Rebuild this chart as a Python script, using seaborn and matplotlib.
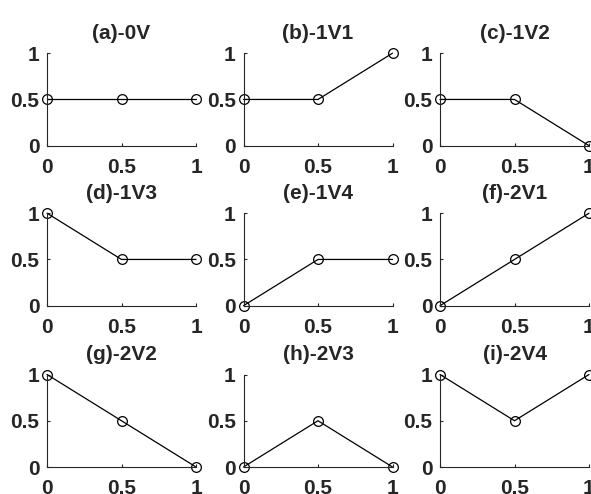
import matplotlib
matplotlib.use("Agg")
import matplotlib.pyplot as plt
import seaborn as sns
import pandas as pd

titles = ["(a)-0V", "(b)-1V1", "(c)-1V2",
          "(d)-1V3", "(e)-1V4", "(f)-2V1",
          "(g)-2V2", "(h)-2V3", "(i)-2V4"]
x_vals = [0, 0.5, 1]
series = [
    [0.5, 0.5, 0.5],
    [0.5, 0.5, 1.0],
    [0.5, 0.5, 0.0],
    [1.0, 0.5, 0.5],
    [0.0, 0.5, 0.5],
    [0.0, 0.5, 1.0],
    [1.0, 0.5, 0.0],
    [0.0, 0.5, 0.0],
    [1.0, 0.5, 1.0],
]
tick_vals = [0, 0.5, 1]
tick_labels = ["0", "0.5", "1"]

sns.set_style("white")
plt.rcParams['font.family'] = ['Liberation Sans', 'DejaVu Sans']

W, H = 591, 494
fig = plt.figure(figsize=(W / 100, H / 100), dpi=100)

lefts = [47 / W, 243.5 / W, 440 / W]
bottoms = [1 - 145.7 / H, 1 - 305.7 / H, 1 - 467 / H]
aw = 149 / W
ah = 92.5 / H

for idx, (t, yv) in enumerate(zip(titles, series)):
    r, c = divmod(idx, 3)
    ax = fig.add_axes([lefts[c], bottoms[r], aw, ah])
    df = pd.DataFrame({"x": x_vals, "y": yv})
    sns.lineplot(data=df, x="x", y="y", ax=ax, color="black", linewidth=0.9,
                 marker="o", markersize=7, markerfacecolor="none",
                 markeredgecolor="black", markeredgewidth=0.9, clip_on=False)
    ax.set_xlim(0, 1)
    ax.set_ylim(0, 1)
    ax.set_xticks(tick_vals)
    ax.set_xticklabels(tick_labels)
    ax.set_yticks(tick_vals)
    ax.set_yticklabels(tick_labels)
    ax.set_xlabel("")
    ax.set_ylabel("")
    for s in ["top", "right"]:
        ax.spines[s].set_visible(False)
    for s in ["left", "bottom"]:
        ax.spines[s].set_color("#262626")
        ax.spines[s].set_linewidth(0.8)
    ax.tick_params(direction="in", length=2.5, width=0.8, color="#262626",
                   labelsize=15, left=True, bottom=True)
    ax.tick_params(axis="x", pad=8.5)
    ax.tick_params(axis="y", pad=5.5)
    for lab in ax.get_xticklabels() + ax.get_yticklabels():
        lab.set_fontweight("bold")
    ax.set_title(t, fontsize=15, fontweight="bold", pad=10.5)

fig.savefig("out.png", dpi=100)
